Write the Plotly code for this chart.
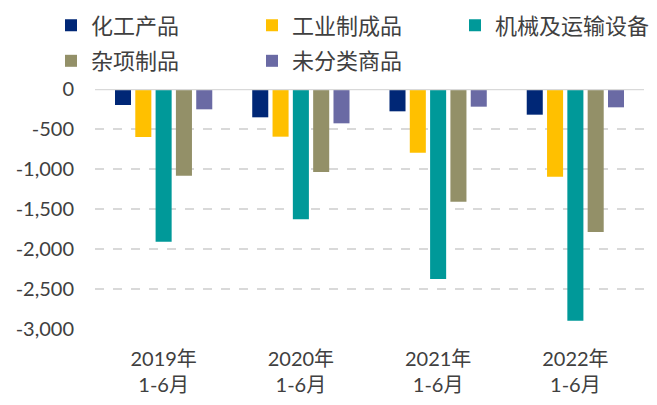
import plotly.graph_objects as go

categories = ["2019年<br>1-6月", "2020年<br>1-6月", "2021年<br>1-6月", "2022年<br>1-6月"]
series_names = ["化工产品", "工业制成品", "机械及运输设备", "杂项制品", "未分类商品"]
chem = [-200, -354, -279, -321]
manuf = [-600, -596, -796, -1096]
machinery = [-1908, -1629, -2375, -2896]
misc = [-1083, -1037, -1408, -1787]
unclassified = [-254, -429, -221, -229]
tick_vals = [0, -500, -1000, -1500, -2000, -2500, -3000]
tick_text = ["0", "-500", "-1,000", "-1,500", "-2,000", "-2,500", "-3,000"]

colors = ["#002776", "#FFC000", "#009999", "#939068", "#6A6AA4"]
values = [chem, manuf, machinery, misc, unclassified]
legend_ids = ["legend", "legend2", "legend3", "legend4", "legend5"]
# legend placement (container fractions) for the 2-row legend layout
legend_x = [51 / 657, 252 / 657, 455 / 657, 51 / 657, 252 / 657]
legend_y = [1 - 25.5 / 405] * 3 + [1 - 61 / 405] * 2

fig = go.Figure()
for name, vals, col, lg in zip(series_names, values, colors, legend_ids):
    fig.add_trace(go.Bar(x=categories, y=vals, name=name, legend=lg,
                         marker=dict(color=col, line=dict(width=0))))

legend_common = dict(
    orientation="h", xanchor="left", yanchor="middle",
    xref="container", yref="container",
    font=dict(family="'Noto Sans CJK SC', sans-serif", size=22, color="#404040"),
    bgcolor="rgba(0,0,0,0)",
)
legend_layout = {lg: dict(x=lx, y=ly, **legend_common)
                 for lg, lx, ly in zip(legend_ids, legend_x, legend_y)}

fig.update_layout(
    width=657, height=405,
    margin=dict(l=95, r=13, t=89, b=76, autoexpand=False),
    paper_bgcolor="white", plot_bgcolor="white",
    barmode="group", bargap=0.26, bargroupgap=0.21,
    font=dict(family="Lato, 'Noto Sans CJK SC', sans-serif", color="#404040", size=20),
    showlegend=True,
    **legend_layout,
)
fig.update_xaxes(showgrid=False, showline=False, ticks="", ticklabelstandoff=16,
                 tickfont=dict(size=20, color="#404040"))
fig.update_yaxes(
    range=[-3000, 0], tickvals=tick_vals, ticktext=tick_text,
    showgrid=True, gridcolor="#D9D9D9", gridwidth=1.5, griddash="dash",
    zeroline=False, showline=False, ticks="", ticklabelstandoff=20,
    tickfont=dict(size=20, color="#404040"),
)
fig.add_hline(y=0, line=dict(color="#D9D9D9", width=2.5))
fig.write_html("out.html", config={"displayModeBar": False},
               post_script="document.body.style.margin='0px';")
